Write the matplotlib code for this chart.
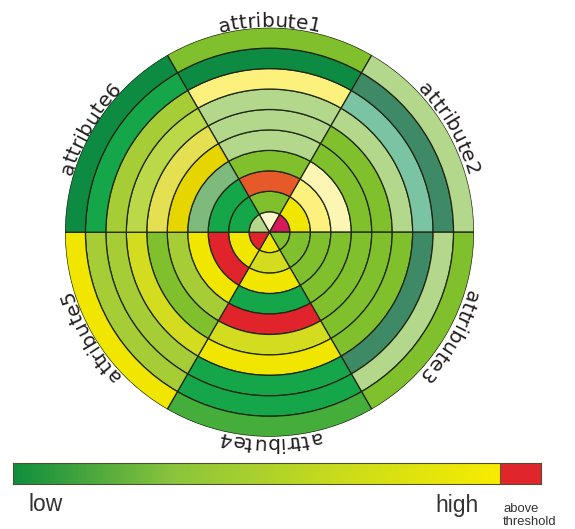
import numpy as np
import matplotlib
matplotlib.use("Agg")
import matplotlib.pyplot as plt
from matplotlib.colors import LinearSegmentedColormap
from matplotlib.font_manager import FontProperties

# six attributes, label angle (deg, counter-clockwise from east)
attributes = ["attribute1", "attribute2", "attribute3", "attribute4", "attribute5", "attribute6"]
sector_angles = [90, 30, -30, 270, 210, 150]

# ring classes, from the centre ring (0) out to the outer ring (9)
attribute1 = ["cream", "mid", "orange", "mid", "pale", "pale", "pale", "paleyel", "dark", "mid"]
attribute2 = ["magenta", "yellow", "paleyel", "cream2", "mid", "mid", "pale", "teal_l", "teal_d", "pale"]
attribute3 = ["mid", "mid", "mid", "mid", "mid", "mid", "mid", "teal_d", "pale", "mid"]
attribute4 = ["yellow", "olive", "yellow", "green", "red", "olive", "yellow", "green", "green", "green2"]
attribute5 = ["red", "yellow", "red", "yellow", "yg", "mid", "olive", "yg", "yg", "yellow"]
attribute6 = ["pale", "green", "green", "grey", "gold", "lightyel", "yg_l", "yg", "green", "dark"]
rings = [attribute1, attribute2, attribute3, attribute4, attribute5, attribute6]

palette = {
    "cream": "#fdf7cc", "mid": "#7fc02c", "orange": "#e65a2a", "pale": "#b3d78b",
    "paleyel": "#fdf17e", "dark": "#0e8b42", "green": "#16a64a", "green2": "#45ad3a",
    "magenta": "#d6195c", "yellow": "#f0e600", "cream2": "#fdf5b3", "teal_l": "#7ac3a3",
    "teal_d": "#3e8a67", "red": "#e1232b", "olive": "#d3dc1f", "yg": "#a6cd36",
    "yg_l": "#bad847", "lightyel": "#e4e052", "gold": "#e7d500", "grey": "#7eba7c",
}

# legend bar
legend_stops = ["#0f8e3e", "#8cc53c", "#c9dc1c", "#f8ec00"]
threshold_color = "#e0262c"
legend_labels = ["low", "high"]
threshold_label = "above\nthreshold"

edge = "#1f2612"
text_col = "#231f20"

fig = plt.figure(figsize=(5.75, 5.29), dpi=100)
W, H = 575, 529
cx, cy, R = 269.5, 232.2, 204.5

ax = fig.add_axes([(cx - R) / W, (H - cy - R) / H, 2 * R / W, 2 * R / H], projection="polar")
n_rings = len(attribute1)
width = np.deg2rad(60)
for ang, codes in zip(sector_angles, rings):
    th = np.deg2rad(ang)
    ax.bar([th] * n_rings, 1, width=width, bottom=np.arange(n_rings),
           color=[palette[c] for c in codes], edgecolor=edge, linewidth=0.9, align="center")
ax.set_ylim(0, n_rings)
ax.axis("off")

# curved labels, reading clockwise round the rim
fp = FontProperties(family=["DejaVu Sans"], size=14.5)
fig.canvas.draw()
renderer = fig.canvas.get_renderer()


def tw(s):
    if not s:
        return 0.0
    return renderer.get_text_width_height_descent(s, fp, ismath=False)[0]


r_lab = n_rings * 1.004
r_px = R * 1.004
for lab, ang in zip(attributes, sector_angles):
    total = tw(lab)
    for i, ch in enumerate(lab):
        mid = (tw(lab[:i]) + tw(lab[:i + 1])) / 2
        th = np.deg2rad(ang) + (total / 2 - mid) / r_px
        ax.text(th, r_lab, ch, fontproperties=fp, color=text_col,
                rotation=np.degrees(th) - 90, rotation_mode="anchor",
                ha="center", va="baseline")

# legend bar
cax = fig.add_axes([13.3 / W, (H - 484.3) / H, (540.7 - 13.3) / W, 21.6 / H])
cmap = LinearSegmentedColormap.from_list("lowhigh", legend_stops)
top = 1.0
over = (540.7 - 500) / (500 - 13.3)
grad = np.linspace(0, 1, 512)[None, :]
cax.imshow(grad, cmap=cmap, aspect="auto", extent=[0, top, 0, 1])
cax.barh(0.5, over, left=top, height=1, color=threshold_color)
cax.axvline(top, color="#5a5a20", linewidth=0.8)
cax.set_xlim(0, top + over)
cax.set_ylim(0, 1)
cax.set_xticks([])
cax.set_yticks([])
for s in cax.spines.values():
    s.set_color("#505030")
    s.set_linewidth(0.8)

lf = dict(family=["Liberation Sans", "DejaVu Sans"], color="#333333")
fig.text(29 / W, 1 - 511 / H, legend_labels[0], fontsize=16.5, ha="left", va="baseline", **lf)
fig.text(435 / W, 1 - 512 / H, legend_labels[1], fontsize=16.5, ha="left", va="baseline", **lf)
fig.text(503 / W, 1 - 525 / H, threshold_label, fontsize=9.4, ha="left", va="baseline",
         linespacing=1.1, **lf)

fig.savefig("out.png", dpi=100)
